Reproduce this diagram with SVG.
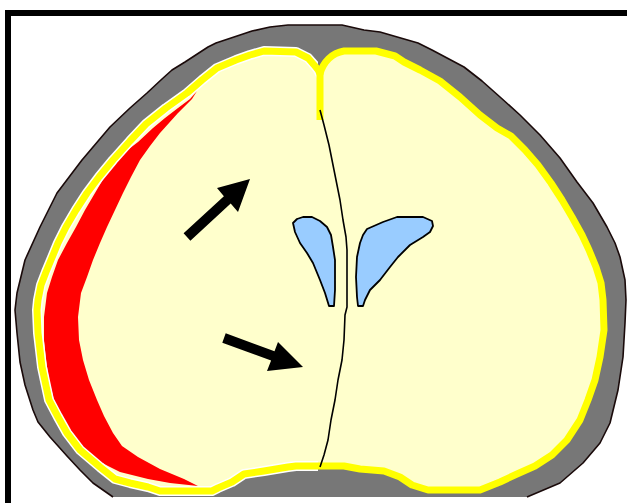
<svg xmlns="http://www.w3.org/2000/svg" width="627" height="503" viewBox="0 0 627 503">
  <style>
    .frame { fill: none; stroke: #000; stroke-width: 6; }
    .skull { fill: #777777; }
    .skull-edge { fill: none; stroke: #1a0a0a; stroke-width: 1.6; stroke-linejoin: round; }
    .brain { fill: #FFFFCC; }
    .halo { fill: none; stroke: #fff; stroke-width: 10; stroke-linejoin: round; }
    .meninges { fill: none; stroke: #FFFF00; stroke-width: 7; stroke-linejoin: round; }
    .bleed { fill: #FF0000; }
    .ventricle { fill: #99CCFF; stroke: #000; stroke-width: 1.8; stroke-linejoin: round; }
    .fissure { fill: none; stroke: #000; stroke-width: 1.6; stroke-linejoin: round; }
    .arrow { fill: #000; }
  </style>
  <defs>
    <clipPath id="leftHalf">
      <rect x="0" y="0" width="318" height="503"/>
    </clipPath>
    <!-- outer contour of the skull, open along the cut at the bottom -->
    <path id="skullContour" d="M113,497 L93,483 L80,470 L67,456 L50,437 L38,422 L33,410 L25,385 L20,362 L17,333 L15,310 L17,293 L25,260 L40,227 L57,193 L82,160 L110,127 L130,108 L147,93 L162,79 L172,70 L185,62 L208,47 L216,43 L252,31 L270,27 L288,25 L342,25 L364,30 L380,32 L418,43 L432,50 L464,67 L482,81 L500,97 L520,115 L540,135 L560,158 L577,182 L593,203 L607,227 L615,243 L620,257 L625,280 L626,300 L625,323 L623,357 L618,390 L610,423 L600,443 L583,463 L560,483 L527,497"/>
    <path id="brainOutline" d="M320,74 C323,62 332,53 344,51 L376,51 L395,56 L404,62 L420,70 L440,81 L460,97 L480,115 L497,128 L511,136 L525,150 L538,165 L551,183 L562,200 L572,217 L582,235 L589,250 L596,267 L601,283 L603,300 L604,330 L600,357 L595,380 L588,400 L580,420 L567,440 L552,455 L535,466 L517,474 L500,482 L480,490 L428,490 L412,485 L400,477 L384,471 L360,469 L344,466 L296,466 L288,467 L264,471 L244,474 L232,482 L218,488 L212,491 L160,491 L148,487 L130,483 L115,479 L100,467 L80,450 L67,433 L58,417 L49,400 L42,367 L38,333 L37,310 L38,300 L41,285 L46,272 L51,260 L58,243 L66,227 L76,210 L87,193 L99,177 L113,160 L130,141 L146,124 L166,108 L187,93 L202,80 L217,68 L236,60 L250,55 L264,51 L296,52 L308,58 L315,66 C318,69 319,71 320,74 Z"/>
  </defs>

  <!-- picture frame -->
  <g id="frame">
    <path class="frame" d="M8,503 L8,13 L627,13"/>
  </g>

  <!-- skull -->
  <g id="skull">
    <use href="#skullContour" class="skull"/>
    <use href="#skullContour" class="skull-edge"/>
  </g>

  <!-- brain hemispheres with subdural bleed -->
  <g id="brain">
    <use href="#brainOutline" class="brain"/>
    <path class="bleed" d="M197,91 L190,99 L178,108 L165,118 L153,128 L138,142 L125,152 L118,160 L105,176 L95,193 L85,210 L76,227 L67,243 L58,260 L52,277 L47,293 L44,317 L44,340 L46,360 L49,380 L54,400 L62,418 L71,433 L83,450 L100,462 L120,472 L148,479 L170,483 L198,486 L184,479 L160,469 L138,457 L122,446 L113,433 L104,416 L97,400 L89,380 L83,360 L79,340 L78,317 L81,293 L87,277 L93,260 L100,243 L107,227 L115,210 L123,193 L131,177 L140,160 L150,146 L160,133 L178,113 L192,99 Z"/>
    <use href="#brainOutline" class="halo" clip-path="url(#leftHalf)"/>
    <use href="#brainOutline" class="meninges"/>
    <path class="meninges" d="M320,70 L320,120" stroke-width="6"/>
  </g>

  <!-- lateral ventricles -->
  <g id="ventricle-left">
    <path class="ventricle" d="M293,223 L297,219 L303,217 L312,217 L320,221 L327,227 L331,235 L333,247 L335,260 L335,290 L334,306 L329,306 L325,293 L320,280 L313,263 L307,253 L300,243 L295,232 Z"/>
  </g>
  <g id="ventricle-right">
    <path class="ventricle" d="M363,235 L367,229 L383,222 L397,217 L423,217 L432,221 L433,226 L430,232 L423,237 L410,245 L398,257 L390,267 L380,280 L370,290 L365,300 L363,306 L358,306 L357,297 L356,277 L357,257 L360,243 Z"/>
  </g>

  <!-- midline fissure -->
  <g id="midline">
    <path class="fissure" d="M320,110 L324,125 L329,145 L334,170 L338,190 L340,200 L343,220 L346,237 L347,250 L347,307 L345,315 L344,340 L342,360 L338,380 L335,400 L331,420 L328,440 L324,455 L320,467"/>
  </g>

  <!-- pointer arrows -->
  <g id="arrows">
    <polygon id="arrow-upper" class="arrow" points="183.6,233.3 223.9,196.2 217,188 250,179 238,212 230.7,203.6 190.4,240.7"/>
    <polygon id="arrow-lower" class="arrow" points="225.7,333.3 274.5,351.2 278,342 303,367 267,371 271.1,360.6 222.3,342.7"/>
  </g>
</svg>
